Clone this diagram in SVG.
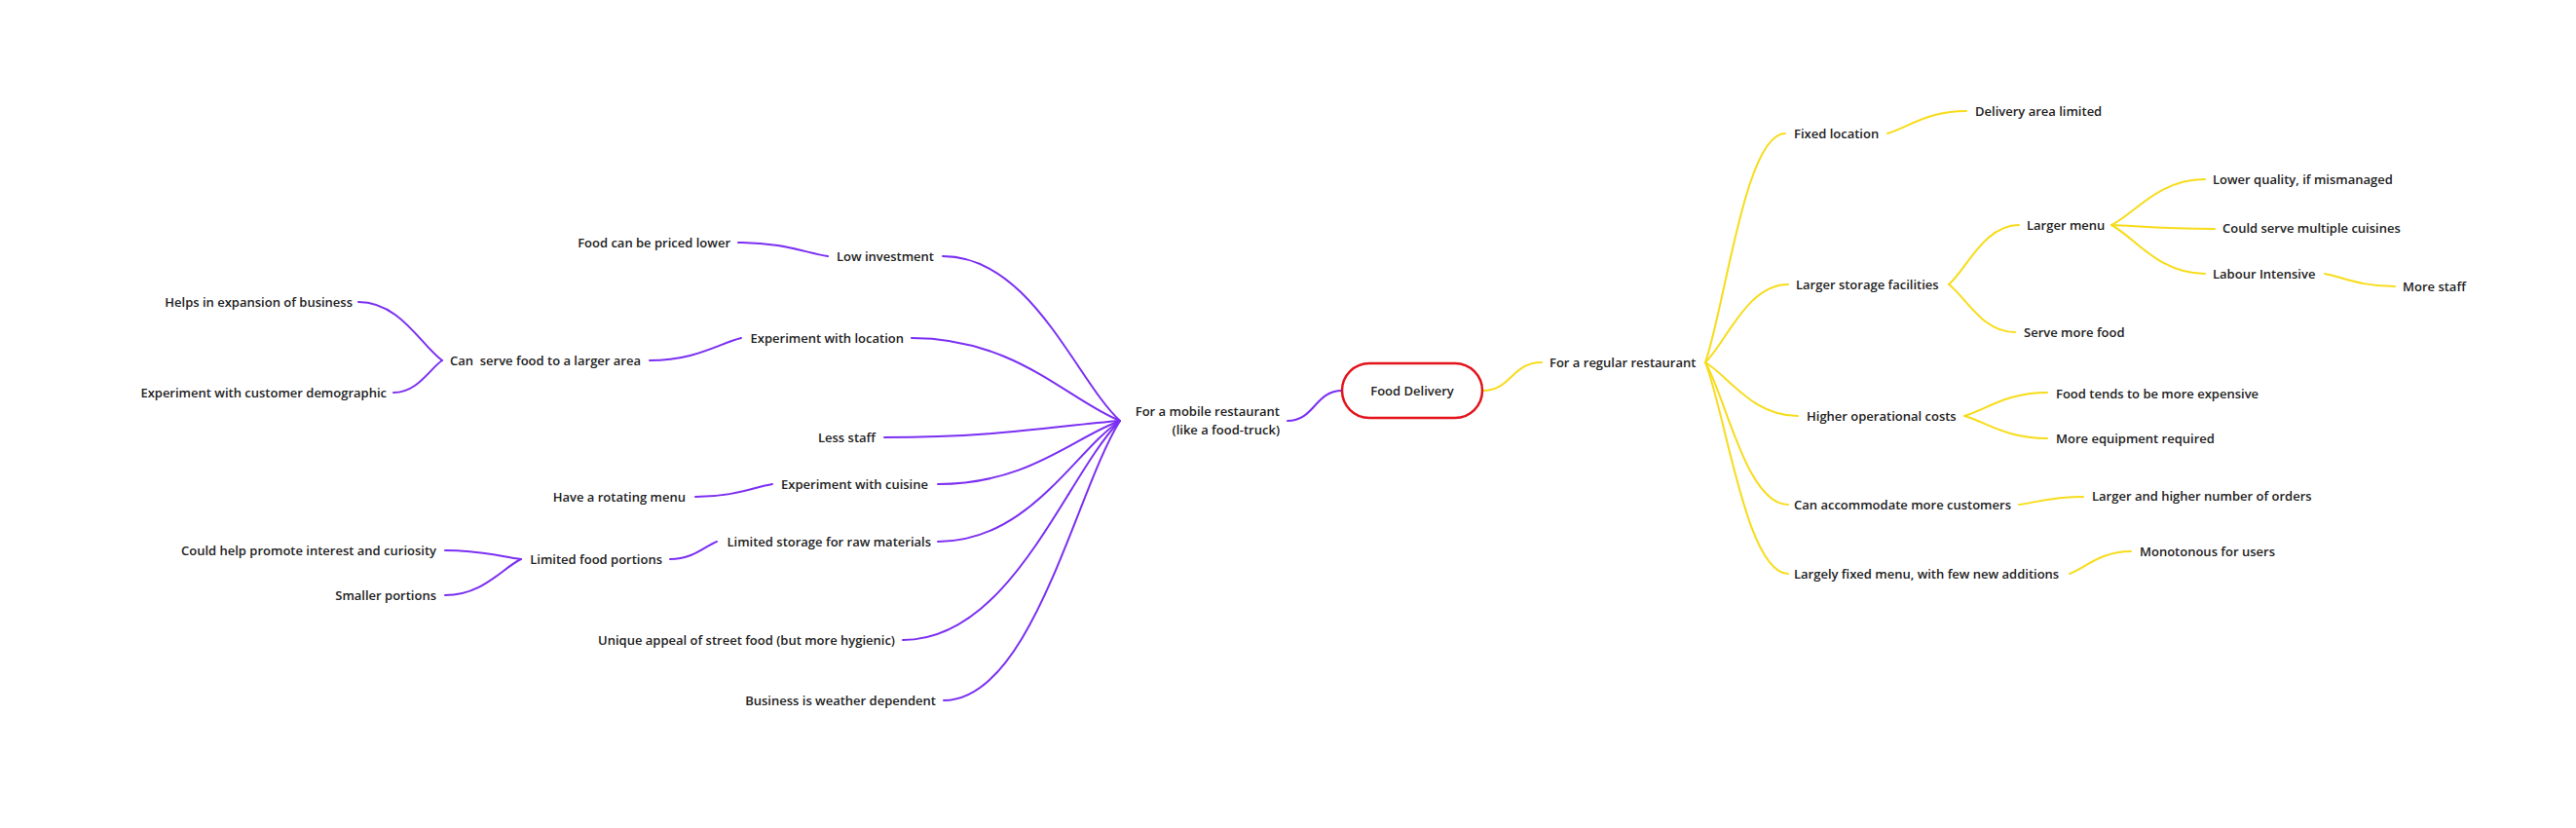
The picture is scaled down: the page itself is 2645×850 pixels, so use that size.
<svg xmlns="http://www.w3.org/2000/svg" width="2645" height="850" viewBox="0 0 2645 850">
<style>
text{font-family:"Open Sans","Noto Sans","Liberation Sans",sans-serif;font-size:13px;font-weight:600;fill:#222;white-space:pre}
.l{text-anchor:end}
.c{text-anchor:middle}
.p{fill:none;stroke:#7b2ff2;stroke-width:2;stroke-linecap:round}
.y{fill:none;stroke:#f7dc1a;stroke-width:2;stroke-linecap:round}
</style>
<rect width="2645" height="850" fill="#ffffff"/>
<g id="connectors">
<path class="p" d="M1378 401 C1350 401 1350 432 1322 432"/>
<path class="p" d="M1150 432 C1104.5 389.8 1059 263 968 263"/>
<path class="p" d="M1150 432 C1096.5 410.8 1043 347 936 347"/>
<path class="p" d="M1150 432 C1089.5 436.3 1029 449 908 449"/>
<path class="p" d="M1150 432 C1103.3 448.3 1056.5 497 963 497"/>
<path class="p" d="M1150 432 C1103.3 463 1056.5 556 963 556"/>
<path class="p" d="M1150 432 C1094.3 488.3 1038.5 657 927 657"/>
<path class="p" d="M1150 432 C1104.8 503.8 1059.5 719 969 719"/>
<path class="p" d="M850 263 C827 259.5 804 249 758 249"/>
<path class="p" d="M761 347 C737.5 352.8 714 370 667 370"/>
<path class="p" d="M454 370 C432.5 355 411 310 368 310"/>
<path class="p" d="M454 370 C441.5 378.3 429 403 404 403"/>
<path class="p" d="M793 497 C773.3 500.3 753.5 510 714 510"/>
<path class="p" d="M736 556 C724 560.5 712 574 688 574"/>
<path class="p" d="M535 574 C515.5 571.8 496 565 457 565"/>
<path class="p" d="M535 574 C515.5 583.3 496 611 457 611"/>
<path class="y" d="M1522 401 C1552 401 1552 372 1583 372"/>
<path class="y" d="M1751 372 C1771.5 313.3 1792 137 1833 137"/>
<path class="y" d="M1751 372 C1772.3 352 1793.5 292 1836 292"/>
<path class="y" d="M1751 372 C1774.8 385.8 1798.5 427 1846 427"/>
<path class="y" d="M1751 372 C1772.3 408.5 1793.5 518 1836 518"/>
<path class="y" d="M1751 372 C1772.3 426.3 1793.5 589 1836 589"/>
<path class="y" d="M1938 137 C1958.3 131.3 1978.5 114 2019 114"/>
<path class="y" d="M2001 292 C2019 276.8 2037 231 2073 231"/>
<path class="y" d="M2001 292 C2018 304.3 2035 341 2069 341"/>
<path class="y" d="M2168 231 C2192 219.3 2216 184 2264 184"/>
<path class="y" d="M2168 231 C2194.5 232 2221 235 2274 235"/>
<path class="y" d="M2168 231 C2192 243.5 2216 281 2264 281"/>
<path class="y" d="M2387 281 C2405 284.3 2423 294 2459 294"/>
<path class="y" d="M2017 427 C2038.3 421 2059.5 403 2102 403"/>
<path class="y" d="M2017 427 C2038.3 432.8 2059.5 450 2102 450"/>
<path class="y" d="M2073 518 C2089.5 516 2106 510 2139 510"/>
<path class="y" d="M2125 589 C2140.8 583.3 2156.5 566 2188 566"/>
</g>
<g id="root"><rect x="1378" y="373" width="144" height="56" rx="28" fill="#fff" stroke="#e3141b" stroke-width="2.5"/><text class="c" x="1450" y="406">Food Delivery</text></g>
<g id="mobile"><text class="l" x="1314" y="427">For a mobile restaurant</text><text class="l" x="1314" y="446">(like a food-truck)</text></g>
<g id="low-investment"><text class="l" x="959" y="267.5">Low investment</text></g>
<g id="priced-lower"><text class="l" x="750" y="253.5">Food can be priced lower</text></g>
<g id="exp-location"><text class="l" x="928" y="351.5">Experiment with location</text></g>
<g id="larger-area"><text class="l" x="658" y="374.5">Can  serve food to a larger area</text></g>
<g id="expansion"><text class="l" x="362" y="314.5">Helps in expansion of business</text></g>
<g id="demographic"><text class="l" x="397" y="407.5">Experiment with customer demographic</text></g>
<g id="less-staff"><text class="l" x="899" y="453.5">Less staff</text></g>
<g id="exp-cuisine"><text class="l" x="953" y="501.5">Experiment with cuisine</text></g>
<g id="rotating-menu"><text class="l" x="704" y="514.5">Have a rotating menu</text></g>
<g id="limited-storage"><text class="l" x="956" y="560.5">Limited storage for raw materials</text></g>
<g id="limited-portions"><text class="l" x="680" y="578.5">Limited food portions</text></g>
<g id="curiosity"><text class="l" x="448" y="569.5">Could help promote interest and curiosity</text></g>
<g id="smaller-portions"><text class="l" x="448" y="615.5">Smaller portions</text></g>
<g id="street-food"><text class="l" x="919" y="661.5">Unique appeal of street food (but more hygienic)</text></g>
<g id="weather"><text class="l" x="961" y="723.5">Business is weather dependent</text></g>
<g id="regular"><text x="1591" y="376.5">For a regular restaurant</text></g>
<g id="fixed-location"><text x="1842" y="141.5">Fixed location</text></g>
<g id="delivery-area"><text x="2028" y="118.5">Delivery area limited</text></g>
<g id="storage"><text x="1844" y="296.5">Larger storage facilities</text></g>
<g id="larger-menu"><text x="2081" y="235.5">Larger menu</text></g>
<g id="serve-more"><text x="2078" y="345.5">Serve more food</text></g>
<g id="lower-quality"><text x="2272" y="188.5">Lower quality, if mismanaged</text></g>
<g id="multiple-cuisines"><text x="2282" y="238.5">Could serve multiple cuisines</text></g>
<g id="labour"><text x="2272" y="285.5">Labour Intensive</text></g>
<g id="more-staff"><text x="2467" y="298.5">More staff</text></g>
<g id="operational"><text x="1855" y="431.5">Higher operational costs</text></g>
<g id="expensive"><text x="2111" y="408.5">Food tends to be more expensive</text></g>
<g id="equipment"><text x="2111" y="454.5">More equipment required</text></g>
<g id="customers"><text x="1842" y="522.5">Can accommodate more customers</text></g>
<g id="orders"><text x="2148" y="513.5">Larger and higher number of orders</text></g>
<g id="fixed-menu"><text x="1842" y="593.5">Largely fixed menu, with few new additions</text></g>
<g id="monotonous"><text x="2197" y="570.5">Monotonous for users</text></g>
</svg>
